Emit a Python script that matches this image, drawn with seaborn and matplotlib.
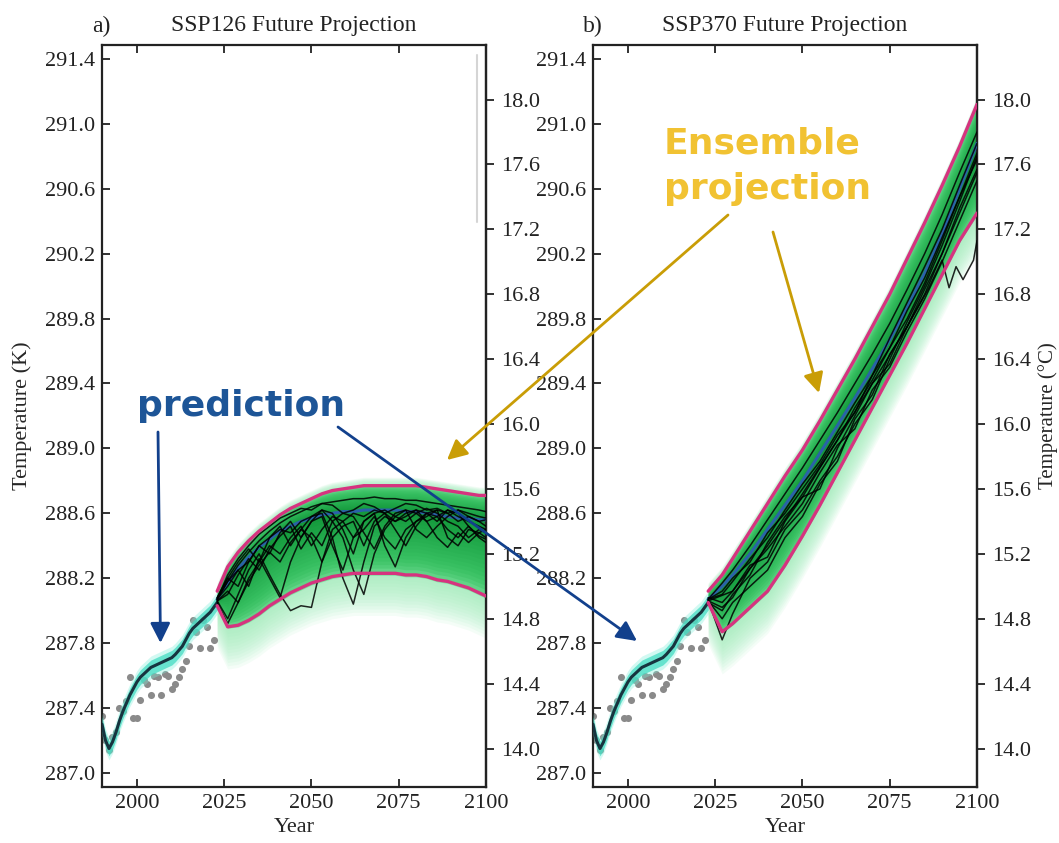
import numpy as np
import pandas as pd
import matplotlib
matplotlib.use("Agg")
import matplotlib.pyplot as plt
import seaborn as sns
from matplotlib.patches import FancyArrowPatch
from matplotlib.ticker import FormatStrFormatter
from matplotlib.colors import to_rgb

# ---------------- data ----------------
obs_years = list(range(1990, 2023))
obs_temp = [287.35, 287.20, 287.14, 287.22, 287.25, 287.40, 287.38, 287.44, 287.59, 287.34,
            287.34, 287.45, 287.57, 287.55, 287.48, 287.60, 287.59, 287.48, 287.61, 287.60,
            287.52, 287.55, 287.59, 287.64, 287.69, 287.78, 287.94, 287.87, 287.77, 287.94,
            287.90, 287.77, 287.82]

pred_years = list(range(1990, 2024))
pred_temp = [287.30, 287.20, 287.15, 287.19, 287.25, 287.32, 287.38, 287.43, 287.48, 287.52,
             287.56, 287.59, 287.61, 287.63, 287.65, 287.66, 287.67, 287.68, 287.69, 287.70,
             287.71, 287.73, 287.755, 287.78, 287.82, 287.86, 287.89, 287.91, 287.93, 287.95,
             287.97, 287.99, 288.02, 288.05]

# SSP126 ensemble
years_126 = [2023, 2026, 2029, 2032, 2035, 2038, 2041, 2044, 2047, 2050, 2053, 2056, 2059, 2062,
             2065, 2068, 2071, 2074, 2077, 2080, 2083, 2086, 2089, 2092, 2095, 2098, 2100]
upper_126 = [288.12, 288.27, 288.36, 288.43, 288.49, 288.54, 288.59, 288.63, 288.66, 288.69,
             288.72, 288.74, 288.75, 288.76, 288.77, 288.77, 288.77, 288.77, 288.77, 288.77,
             288.76, 288.75, 288.74, 288.73, 288.72, 288.71, 288.71]
lower_126 = [288.03, 287.90, 287.91, 287.94, 287.98, 288.03, 288.07, 288.11, 288.14, 288.17,
             288.19, 288.21, 288.22, 288.23, 288.23, 288.23, 288.23, 288.23, 288.22, 288.22,
             288.21, 288.19, 288.18, 288.16, 288.14, 288.11, 288.09]
mean_126 = [288.07, 288.17, 288.26, 288.33, 288.39, 288.44, 288.49, 288.52, 288.55, 288.57,
            288.59, 288.60, 288.61, 288.61, 288.62, 288.62, 288.62, 288.62, 288.61, 288.61,
            288.60, 288.59, 288.58, 288.57, 288.57, 288.56, 288.56]
m126_1 = [288.07, 288.18, 288.28, 288.36, 288.43, 288.49, 288.54, 288.58, 288.61, 288.64, 288.66, 288.67, 288.68, 288.69,
          288.69, 288.70, 288.69, 288.69, 288.68, 288.68, 288.67, 288.66, 288.65, 288.64, 288.63, 288.62, 288.61]
m126_2 = [288.07, 288.15, 288.25, 288.30, 288.40, 288.45, 288.50, 288.48, 288.55, 288.58, 288.60, 288.45, 288.20, 288.04,
          288.30, 288.52, 288.58, 288.55, 288.60, 288.62, 288.60, 288.55, 288.62, 288.58, 288.55, 288.52, 288.50]
m126_3 = [288.06, 287.95, 288.10, 288.25, 288.35, 288.22, 288.10, 288.00, 288.03, 288.02, 288.30, 288.50, 288.55, 288.45,
          288.50, 288.58, 288.45, 288.38, 288.50, 288.55, 288.60, 288.62, 288.45, 288.40, 288.50, 288.48, 288.45]
m126_4 = [288.08, 288.20, 288.15, 288.30, 288.40, 288.35, 288.48, 288.55, 288.45, 288.55, 288.62, 288.60, 288.50, 288.35,
          288.55, 288.60, 288.40, 288.27, 288.45, 288.55, 288.58, 288.62, 288.60, 288.55, 288.58, 288.55, 288.52]
m126_5 = [288.05, 287.92, 288.05, 288.20, 288.30, 288.40, 288.35, 288.45, 288.52, 288.40, 288.50, 288.58, 288.55, 288.60,
          288.58, 288.62, 288.60, 288.55, 288.58, 288.62, 288.55, 288.45, 288.39, 288.48, 288.42, 288.48, 288.50]
m126_6 = [288.07, 288.18, 288.25, 288.15, 288.32, 288.20, 288.08, 288.30, 288.45, 288.55, 288.58, 288.40, 288.25, 288.45,
          288.55, 288.60, 288.62, 288.58, 288.55, 288.60, 288.63, 288.60, 288.55, 288.52, 288.45, 288.50, 288.48]
m126_7 = [288.08, 288.20, 288.30, 288.38, 288.30, 288.45, 288.52, 288.40, 288.50, 288.58, 288.62, 288.55, 288.45, 288.25,
          288.10, 288.35, 288.50, 288.58, 288.62, 288.60, 288.55, 288.58, 288.62, 288.60, 288.52, 288.45, 288.42]
m126_8 = [288.06, 288.10, 288.22, 288.32, 288.25, 288.38, 288.46, 288.52, 288.38, 288.48, 288.40, 288.55, 288.60, 288.58,
          288.48, 288.38, 288.52, 288.60, 288.62, 288.50, 288.45, 288.52, 288.58, 288.62, 288.58, 288.55, 288.56]
m126_9 = [288.07, 288.22, 288.32, 288.40, 288.47, 288.52, 288.57, 288.60, 288.63, 288.62, 288.66, 288.65, 288.60, 288.62,
          288.66, 288.64, 288.60, 288.63, 288.66, 288.65, 288.62, 288.63, 288.60, 288.62, 288.60, 288.58, 288.57]
m126_10 = [288.06, 288.12, 288.05, 288.18, 288.28, 288.36, 288.30, 288.42, 288.50, 288.45, 288.30, 288.45, 288.52, 288.55,
           288.40, 288.55, 288.60, 288.50, 288.40, 288.52, 288.60, 288.58, 288.50, 288.45, 288.52, 288.46, 288.44]

# SSP370 ensemble
years_370 = [2023, 2027, 2030, 2035, 2040, 2045, 2050, 2055, 2060, 2065, 2070, 2075, 2080, 2085, 2090, 2095, 2100]
upper_370 = [288.12, 288.22, 288.32, 288.49, 288.66, 288.83, 288.99, 289.17, 289.36, 289.55, 289.75, 289.95,
             290.17, 290.39, 290.62, 290.86, 291.12]
lower_370 = [288.05, 287.87, 287.92, 288.02, 288.12, 288.28, 288.46, 288.65, 288.85, 289.05, 289.25, 289.45,
             289.65, 289.86, 290.07, 290.28, 290.45]
mean_370 = [288.07, 288.15, 288.22, 288.35, 288.50, 288.65, 288.80, 288.97, 289.14, 289.31, 289.49, 289.67,
            289.87, 290.08, 290.32, 290.60, 290.88]
m370_1 = [288.07, 288.17, 288.25, 288.40, 288.56, 288.72, 288.88, 289.05, 289.22, 289.40, 289.58, 289.77, 289.98, 290.20, 290.44, 290.70, 290.95]
m370_2 = [288.06, 287.82, 287.98, 288.20, 288.30, 288.50, 288.62, 288.80, 288.95, 289.15, 289.30, 289.55, 289.78, 290.00, 290.25, 290.52, 290.80]
m370_3 = [288.08, 288.05, 288.12, 288.28, 288.33, 288.55, 288.70, 288.75, 289.00, 289.20, 289.40, 289.52, 289.75, 289.95, 290.20, 290.48, 290.72]
m370_4 = [288.05, 288.00, 288.10, 288.22, 288.42, 288.58, 288.70, 288.88, 289.05, 289.25, 289.42, 289.62, 289.85, 290.05, 290.30, 290.55, 290.78]
m370_5 = [288.07, 288.10, 288.18, 288.32, 288.45, 288.62, 288.78, 288.92, 289.10, 289.28, 289.45, 289.68, 289.90, 290.12, 290.35, 290.62, 290.88]
m370_6 = [288.06, 287.95, 288.05, 288.15, 288.25, 288.45, 288.58, 288.78, 288.92, 289.18, 289.33, 289.58, 289.75, 289.98, 290.20, 290.45, 290.70]
m370_7 = [288.07, 288.12, 288.20, 288.30, 288.48, 288.60, 288.75, 288.90, 289.08, 289.22, 289.45, 289.62, 289.80, 290.02, 290.28, 290.55, 290.82]
m370_8 = [288.06, 288.02, 288.08, 288.26, 288.38, 288.52, 288.66, 288.85, 289.02, 289.12, 289.36, 289.50, 289.72, 289.92, 290.15, 290.40, 290.65]
w370_years = [2023, 2030, 2040, 2050, 2060, 2070, 2080, 2086, 2090, 2092, 2094, 2096, 2099, 2100]
w370_temp = [288.06, 288.12, 288.40, 288.72, 289.05, 289.40, 289.75, 289.98, 290.16, 289.99, 290.12, 290.04, 290.16, 290.28]

x_ticks = [2000, 2025, 2050, 2075, 2100]
k_ticks = [287.0, 287.4, 287.8, 288.2, 288.6, 289.0, 289.4, 289.8, 290.2, 290.6, 291.0, 291.4]
c_ticks = [14.0, 14.4, 14.8, 15.2, 15.6, 16.0, 16.4, 16.8, 17.2, 17.6, 18.0]

# ---------------- style ----------------
sns.set_theme(style="ticks")
plt.rcParams["font.family"] = ["Liberation Serif", "DejaVu Serif"]
plt.rcParams["axes.edgecolor"] = "#222222"
plt.rcParams["axes.linewidth"] = 1.6

W, H = 1059, 843
fig = plt.figure(figsize=(W / 100, H / 100), dpi=100)
fig.patch.set_facecolor("white")


def fx(px):
    return px / W


def fy(py):
    return 1 - py / H


def shade(ax, x, up, lo, mu):
    x = np.asarray(x, float)
    up = np.asarray(up, float)
    lo = np.asarray(lo, float)
    mu = np.asarray(mu, float)
    for d in np.linspace(0.26, 0.02, 13):
        ax.fill_between(x, lo - d, up + 0.2 * d, color="#9bedb6", alpha=0.10, lw=0, zorder=1)
    c_out = np.array(to_rgb("#3cc868"))
    c_in = np.array(to_rgb("#0f9236"))
    for s in np.linspace(1.03, 0.08, 18):
        col = c_in + (c_out - c_in) * min(s, 1.0)
        ax.fill_between(x, mu - s * (mu - lo), mu + s * (up - mu), color=col, alpha=0.42, lw=0, zorder=1.5)


def panel(ax, years, up, lo, mu, members, extra=None):
    # observations
    sns.scatterplot(x=obs_years, y=obs_temp, ax=ax, color="#8a8a8a", s=26, linewidth=0, zorder=2)
    # prediction band + line
    p = np.asarray(pred_temp)
    ax.fill_between(pred_years, p - 0.07, p + 0.07, color="#7ff0dc", alpha=0.35, lw=0, zorder=3)
    ax.fill_between(pred_years, p - 0.045, p + 0.045, color="#44dcc2", alpha=0.75, lw=0, zorder=3)
    sns.lineplot(x=pred_years, y=pred_temp, ax=ax, color="#17343f", lw=2.2, zorder=4)
    # ensemble
    shade(ax, years, up, lo, mu)
    sns.lineplot(x=years, y=mu, ax=ax, color="#2a62a8", lw=2.2, zorder=3)
    rows = []
    for i, m in enumerate(members):
        for yv, tv in zip(years, m):
            rows.append((yv, tv, i))
    if extra is not None:
        for yv, tv in zip(extra[0], extra[1]):
            rows.append((yv, tv, len(members)))
    df = pd.DataFrame(rows, columns=["year", "temp", "member"])
    sns.lineplot(data=df, x="year", y="temp", units="member", estimator=None, ax=ax,
                 color="black", lw=1.1, alpha=0.85, legend=False, zorder=4)
    sns.lineplot(x=years, y=up, ax=ax, color="#d6337f", lw=2.4, zorder=5)
    sns.lineplot(x=years, y=lo, ax=ax, color="#d6337f", lw=2.4, zorder=5)

    ax.set_xlim(1990, 2100)
    ax.set_ylim(286.913, 291.486)
    ax.set_xticks(x_ticks)
    ax.set_yticks(k_ticks)
    ax.yaxis.set_major_formatter(FormatStrFormatter("%.1f"))
    ax.tick_params(axis="both", direction="in", top=True, right=False, length=6, width=1.3,
                   labelsize=16, colors="#222222", pad=5)
    ax.set_xlabel("Year", fontsize=16, labelpad=4)
    ax.set_ylabel("")
    for sp in ax.spines.values():
        sp.set_visible(True)
        sp.set_linewidth(1.6)
    sec = ax.secondary_yaxis("right", functions=(lambda k: k - 273.15, lambda c: c + 273.15))
    sec.set_yticks(c_ticks)
    sec.yaxis.set_major_formatter(FormatStrFormatter("%.1f"))
    sec.tick_params(direction="out", length=6, width=1.3, labelsize=16, colors="#222222", pad=5)
    sec.spines["right"].set_linewidth(1.6)
    return sec


ax1 = fig.add_axes([fx(102), 1 - 787 / H, fx(384), 742 / H])
ax2 = fig.add_axes([fx(593), 1 - 787 / H, fx(384), 742 / H])

sec1 = panel(ax1, years_126, upper_126, lower_126, mean_126,
             [m126_1, m126_2, m126_3, m126_4, m126_5, m126_6, m126_7, m126_8, m126_9, m126_10])
sec2 = panel(ax2, years_370, upper_370, lower_370, mean_370,
             [m370_1, m370_2, m370_3, m370_4, m370_5, m370_6, m370_7, m370_8],
             extra=(w370_years, w370_temp))

ax1.set_ylabel("Temperature (K)", fontsize=16, labelpad=9)
sec2.set_ylabel("Temperature (\u00b0C)", fontsize=15)
sec2.yaxis.set_label_coords(fx(1048), fy(416), transform=fig.transFigure)
sec2.yaxis.label.set_verticalalignment("center")
sec2.yaxis.label.set_horizontalalignment("center")

for ax, lab, title in [(ax1, "a)", "SSP126 Future Projection"), (ax2, "b)", "SSP370 Future Projection")]:
    ax.set_title(title, fontsize=17, pad=10, color="#222222")
    ax.text(-0.027, 1.0 + 13 / 742, lab, transform=ax.transAxes, fontsize=17, ha="left", va="baseline",
            color="#222222")

# faint vertical mark in panel a
ax1.plot([0.977, 0.977], [0.986, 0.761], transform=ax1.transAxes, color="#d5d5d5", lw=1.5, zorder=6)

# ---------------- annotations ----------------
ann_font = dict(family="DejaVu Sans", fontweight="bold", fontsize=26)
fig.text(fx(137), fy(416), "prediction", color="#1d5597", ha="left", va="baseline", **ann_font)
fig.text(fx(664), fy(153), "Ensemble", color="#f1c232", ha="left", va="baseline", **ann_font)
fig.text(fx(664), fy(199), "projection", color="#f1c232", ha="left", va="baseline", **ann_font)

style = "-|>,head_length=0.6,head_width=0.3"
arrows = [((158, 432), (160.5, 643), "#12408c"),
          ((338, 427), (637, 641), "#12408c"),
          ((728, 215), (447, 460), "#c99d06"),
          ((773, 232), (819, 393), "#c99d06")]
for a, b, c in arrows:
    arr = FancyArrowPatch((fx(a[0]), fy(a[1])), (fx(b[0]), fy(b[1])), transform=fig.transFigure,
                          arrowstyle=style, mutation_scale=20, lw=2.0, color=c,
                          shrinkA=0, shrinkB=0, zorder=10)
    fig.add_artist(arr)

fig.savefig("out.png", dpi=100)
